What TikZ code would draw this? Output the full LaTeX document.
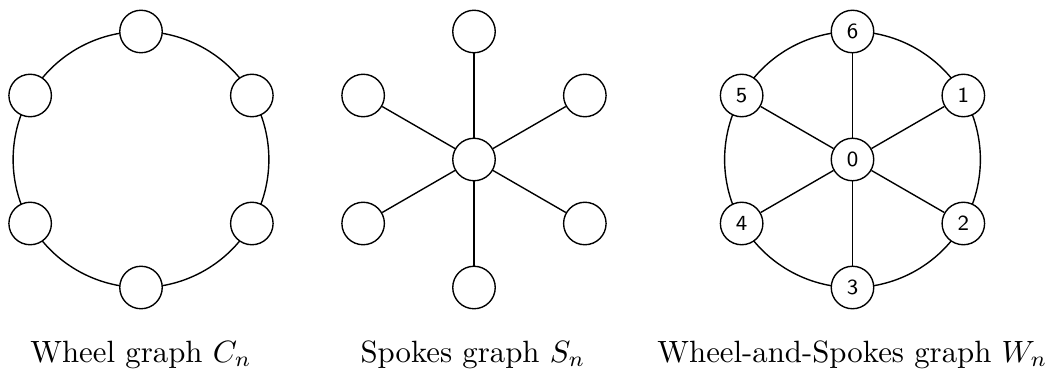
\documentclass[tikz,border=0pt]{standalone}
\usetikzlibrary{backgrounds}
\begin{document}
\begin{tikzpicture}[x=0.3247pt,y=-0.3247pt,
  vtx/.style={circle,draw,fill=white,line width=0.45pt,minimum size=13.8pt,inner sep=0pt,font=\sffamily\scriptsize},
  edge/.style={line width=0.45pt},
  captext/.style={anchor=base,font=\normalsize}]
\useasboundingbox (0,0) rectangle (1049,369);
% ---------- Wheel graph C_n ----------
\begin{scope}[shift={(141,159.5)}]
  \node[vtx] (a1) at (0,-128) {};
  \node[vtx] (a2) at (110.85,-64) {};
  \node[vtx] (a3) at (110.85,64) {};
  \node[vtx] (a4) at (0,128) {};
  \node[vtx] (a5) at (-110.85,64) {};
  \node[vtx] (a6) at (-110.85,-64) {};
\end{scope}
\begin{scope}[on background layer]
  \foreach \p/\q in {a1/a2,a2/a3,a3/a4,a4/a5,a5/a6,a6/a1}
    \draw[edge] (\p.center) to[bend left=30,looseness=0.91] (\q.center);
\end{scope}
\node[captext] (capa) at (141,362) {Wheel graph $C_n$};
% ---------- Spokes graph S_n ----------
\begin{scope}[shift={(474,159.5)}]
  \node[vtx] (c0) at (0,0) {};
  \node[vtx] (b1) at (0,-128) {};
  \node[vtx] (b2) at (110.85,-64) {};
  \node[vtx] (b3) at (110.85,64) {};
  \node[vtx] (b4) at (0,128) {};
  \node[vtx] (b5) at (-110.85,64) {};
  \node[vtx] (b6) at (-110.85,-64) {};
\end{scope}
\foreach \q in {b1,b2,b3,b4,b5,b6}
  \draw[edge] (c0) -- (\q);
\node[captext] (capb) at (473,362) {Spokes graph $S_n$};
% ---------- Wheel-and-Spokes graph W_n ----------
\begin{scope}[shift={(852.5,159.5)}]
  \node[vtx] (w0) at (0,0) {0};
  \node[vtx] (w6) at (0,-128) {6};
  \node[vtx] (w1) at (110.85,-64) {1};
  \node[vtx] (w2) at (110.85,64) {2};
  \node[vtx] (w3) at (0,128) {3};
  \node[vtx] (w4) at (-110.85,64) {4};
  \node[vtx] (w5) at (-110.85,-64) {5};
\end{scope}
\foreach \q in {w1,w2,w3,w4,w5,w6}
  \draw[edge] (w0) -- (\q);
\begin{scope}[on background layer]
  \foreach \p/\q in {w6/w1,w1/w2,w2/w3,w3/w4,w4/w5,w5/w6}
    \draw[edge] (\p.center) to[bend left=30,looseness=0.91] (\q.center);
\end{scope}
\node[captext] (capc) at (852.5,362) {Wheel-and-Spokes graph $W_n$};
\end{tikzpicture}
\end{document}
